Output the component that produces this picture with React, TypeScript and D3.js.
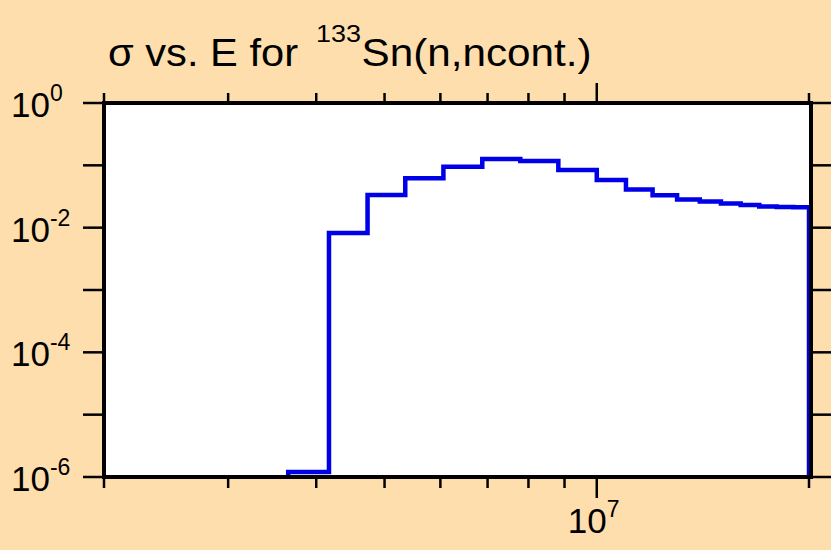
import { useEffect, useRef } from "react";
import * as d3 from "d3";

// bin edges (eV) and cross sections (b)
const binEdges = [
  3.65e6, 4.17e6, 4.73e6, 5.35e6, 6.06e6, 6.88e6, 7.79e6, 8.82e6, 1.0e7, 1.1e7,
  1.2e7, 1.3e7, 1.4e7, 1.5e7, 1.6e7, 1.7e7, 1.8e7, 1.9e7, 2.0e7,
];
const sigmaValues = [
  1.2e-6, 8.2e-3, 3.34e-2, 6.2e-2, 9.5e-2, 0.126, 0.117, 0.084, 0.058, 0.041,
  0.033, 0.0283, 0.0263, 0.0244, 0.0231, 0.0219, 0.0214, 0.0212,
];

const xDomain = [2e6, 2e7];
const yDomain = [1e-6, 1];
const xMinorTicks = [2e6, 3e6, 4e6, 5e6, 6e6, 7e6, 8e6, 9e6, 2e7];
const xMajorTicks = [1e7];
const xLabelExps = [7];
const yTicks = [1, 1e-1, 1e-2, 1e-3, 1e-4, 1e-5, 1e-6];
const yLabelExps = [0, -2, -4, -6];

const W = 831;
const H = 550;
const FONT = "'Liberation Sans', Arial, Helvetica, sans-serif";

export default function App() {
  const ref = useRef<SVGSVGElement | null>(null);

  useEffect(() => {
    const svgEl = ref.current;
    if (!svgEl) return;
    const svg = d3.select(svgEl);
    svg.selectAll("*").remove();

    // ------- scales -------
    const x = d3.scaleLog().domain(xDomain).range([104, 809]);
    const y = d3.scaleLog().domain(yDomain).range([477, 103]);
    const left = 104, right = 811, top = 103, bottom = 477;

    svg.append("rect").attr("width", W).attr("height", H).attr("fill", "#FFDEAD");
    svg
      .append("rect")
      .attr("x", left)
      .attr("y", top)
      .attr("width", right - left)
      .attr("height", bottom - top)
      .attr("fill", "#fff");

    // ------- step curve -------
    const pts: [number, number][] = [[binEdges[0], yDomain[0]]];
    sigmaValues.forEach((v, i) => {
      pts.push([binEdges[i], v]);
      pts.push([binEdges[i + 1], v]);
    });
    pts.push([binEdges[binEdges.length - 1], yDomain[0]]);

    const line = d3
      .line<[number, number]>()
      .x((d) => x(d[0]))
      .y((d) => y(d[1]));

    svg
      .append("path")
      .attr("d", line(pts)!)
      .attr("fill", "none")
      .attr("stroke", "#0000e8")
      .attr("stroke-width", 4.5)
      .attr("stroke-linejoin", "miter");

    // ------- ticks -------
    const tk = svg.append("g").attr("stroke", "#000").attr("stroke-width", 2.5);
    const xt = [
      ...xMinorTicks.map((t) => ({ t, len: 11 })),
      ...xMajorTicks.map((t) => ({ t, len: 21 })),
    ];
    xt.forEach(({ t, len }) => {
      tk.append("line").attr("x1", x(t)).attr("x2", x(t)).attr("y1", bottom).attr("y2", bottom + len);
      tk.append("line").attr("x1", x(t)).attr("x2", x(t)).attr("y1", top).attr("y2", top - len + 1);
    });
    yTicks.forEach((t) => {
      tk.append("line").attr("x1", left - 21).attr("x2", left).attr("y1", y(t)).attr("y2", y(t));
      tk.append("line").attr("x1", right).attr("x2", right + 21).attr("y1", y(t)).attr("y2", y(t));
    });

    // ------- frame -------
    svg
      .append("rect")
      .attr("x", left)
      .attr("y", top)
      .attr("width", right - left)
      .attr("height", bottom - top)
      .attr("fill", "none")
      .attr("stroke", "#000")
      .attr("stroke-width", 4);

    // ------- tick labels (10^n) -------
    const powLabel = (tx: number, ty: number, exp: number) => {
      const t = svg
        .append("text")
        .attr("x", tx)
        .attr("y", ty)
        .attr("font-family", FONT)
        .attr("font-size", 35)
        .attr("fill", "#000");
      t.append("tspan").text("10");
      t.append("tspan").attr("font-size", 23).attr("dy", -16).text(String(exp));
    };
    yLabelExps.forEach((e) => powLabel(11, y(Math.pow(10, e)) + 14, e));
    xLabelExps.forEach((e) => powLabel(x(Math.pow(10, e)) - 29, 533, e));

    // ------- title -------
    const title = svg.append("g").attr("font-family", FONT).attr("fill", "#000");
    title
      .append("text")
      .attr("x", 108)
      .attr("y", 66)
      .attr("font-size", 38)
      .attr("textLength", 190)
      .attr("lengthAdjust", "spacingAndGlyphs")
      .text("σ vs. E for");
    title
      .append("text")
      .attr("x", 316)
      .attr("y", 42)
      .attr("font-size", 24)
      .attr("textLength", 45)
      .attr("lengthAdjust", "spacingAndGlyphs")
      .text("133");
    title
      .append("text")
      .attr("x", 361.5)
      .attr("y", 66)
      .attr("font-size", 38)
      .attr("textLength", 230)
      .attr("lengthAdjust", "spacingAndGlyphs")
      .text("Sn(n,ncont.)");
  }, []);

  return (
    <svg
      ref={ref}
      width={W}
      height={H}
      style={{ position: "absolute", left: 0, top: 0, display: "block" }}
    />
  );
}
